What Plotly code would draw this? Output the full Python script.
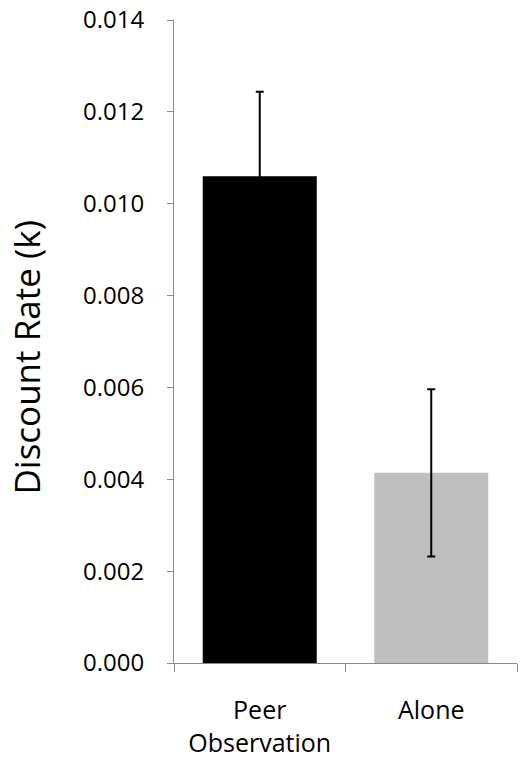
import plotly.graph_objects as go

categories = ["Peer<br>Observation", "Alone"]
values = [0.0106, 0.00414]
errors = [0.00184, 0.00182]
colors = ["#000000", "#bfbfbf"]
y_ticks = [0.000, 0.002, 0.004, 0.006, 0.008, 0.010, 0.012, 0.014]
y_tick_labels = ["0.000", "0.002", "0.004", "0.006", "0.008", "0.010", "0.012", "0.014"]
y_title = "Discount Rate (k)"

fig = go.Figure(go.Bar(
    x=categories, y=values,
    marker=dict(color=colors, line=dict(width=0)),
    error_y=dict(type="data", array=errors, visible=True, color="#000000", thickness=2, width=4),
    width=0.665,
))

font = "Open Sans, Liberation Sans, sans-serif"
fig.update_layout(
    width=527, height=764,
    margin=dict(l=174, r=10, t=20, b=101, autoexpand=False),
    plot_bgcolor="white", paper_bgcolor="white",
    showlegend=False,
    font=dict(family=font, color="#000000"),
)
fig.add_annotation(
    text=y_title, textangle=-90, xref="paper", yref="paper",
    x=0, y=0.475, xanchor="center", yanchor="middle", xshift=-147,
    showarrow=False, font=dict(size=35, family=font, color="#000000"),
)
fig.update_yaxes(
    range=[0, 0.014], tickvals=y_ticks, ticktext=y_tick_labels,
    showgrid=False, zeroline=False,
    showline=True, linecolor="#888888", linewidth=1,
    ticks="outside", ticklen=6, tickcolor="#888888",
    ticklabelstandoff=18, ticklabeloverflow="allow",
    tickfont=dict(size=24, family=font),
)
fig.update_xaxes(
    showgrid=False, showline=True, linecolor="#888888", linewidth=1,
    ticks="outside", ticklen=8, tickcolor="#888888", tickson="boundaries",
    ticklabelstandoff=25,
    tickfont=dict(size=25, family=font),
)
fig.write_html("out.html", config={"displayModeBar": False},
               post_script="document.body.style.margin='0';")
